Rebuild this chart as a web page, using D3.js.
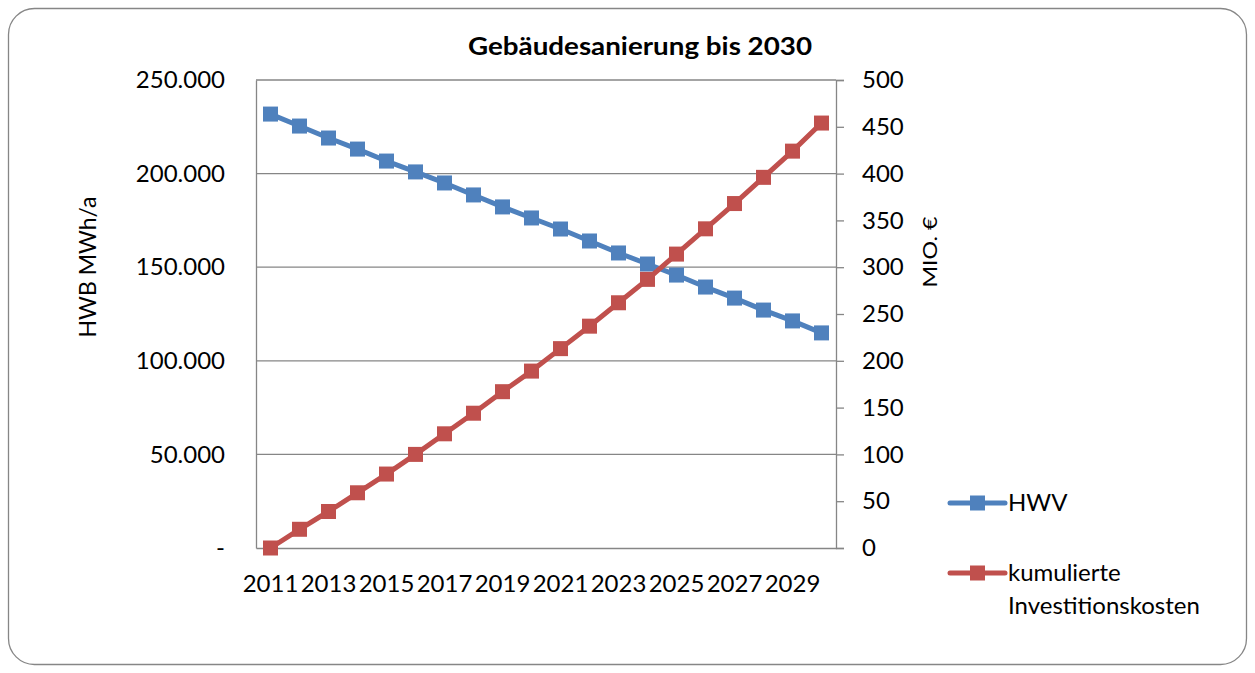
<!DOCTYPE html>
<html>
<head>
<meta charset="utf-8">
<script src="https://cdn.jsdelivr.net/npm/d3@7"></script>
<style>
  body { margin: 0; background: #fff; }
  svg, svg text { font-family: Lato, "Open Sans", sans-serif; }
</style>
</head>
<body>
<svg id="chart" width="1255" height="673"></svg>
<script>
const years = d3.range(2011, 2031).map(String);
const hwv = [231800, 225400, 219000, 213100, 206700, 200900, 195000, 188600, 182200, 176300,
             170400, 164000, 157600, 151700, 145800, 139400, 133500, 127100, 121300, 114900];
const kosten = [0, 20, 39, 59, 79, 100, 122, 144, 167, 189,
                213, 237, 262, 287, 314, 341, 368, 396, 424, 454];
const leftTicks = [0, 50000, 100000, 150000, 200000, 250000];
const rightTicks = [0, 50, 100, 150, 200, 250, 300, 350, 400, 450, 500];

const svg = d3.select("#chart");
const plot = { left: 256, right: 836, top: 80, bottom: 548 };
const blue = "#4F81BD", red = "#C0504D";
const axisColor = "#868686";
const fs = 24;

// outer frame
svg.append("rect")
    .attr("x", 8.5).attr("y", 8.5)
    .attr("width", 1238).attr("height", 656)
    .attr("rx", 26)
    .attr("fill", "#fff")
    .attr("stroke", axisColor)
    .attr("stroke-width", 1.3);

const x = d3.scaleBand().domain(years).range([plot.left, plot.right]);
const yL = d3.scaleLinear().domain([0, 250000]).range([plot.bottom, plot.top]);
const yR = d3.scaleLinear().domain([0, 500]).range([plot.bottom, plot.top]);

// gridlines
svg.append("g")
    .selectAll("line")
    .data(leftTicks.slice(1))
    .join("line")
    .attr("x1", plot.left).attr("x2", plot.right)
    .attr("y1", d => yL(d)).attr("y2", d => yL(d))
    .attr("stroke", axisColor).attr("stroke-width", 1.3);

const fmt = d => d === 0 ? "-" : d3.format(",")(d).replace(/,/g, ".");

function styleAxis(g) {
    g.attr("font-family", null).attr("font-size", null);
    g.select(".domain").attr("stroke", axisColor).attr("stroke-width", 1.3);
    g.selectAll(".tick line").attr("stroke", axisColor).attr("stroke-width", 1.3);
    g.selectAll("text").attr("font-size", fs).attr("fill", "#000");
}

// left axis
svg.append("g")
    .attr("transform", `translate(${plot.left},0)`)
    .call(d3.axisLeft(yL).tickValues(leftTicks).tickSize(0).tickPadding(31).tickFormat(fmt))
    .call(styleAxis);

// right axis
svg.append("g")
    .attr("transform", `translate(${plot.right},0)`)
    .call(d3.axisRight(yR).tickValues(rightTicks).tickSize(8).tickPadding(18))
    .call(styleAxis);

// bottom axis
svg.append("g")
    .attr("transform", `translate(0,${plot.bottom})`)
    .call(d3.axisBottom(x).tickValues(years.filter((d, i) => i % 2 === 0)).tickSize(0))
    .call(styleAxis)
    .selectAll("text").attr("dy", null).attr("y", 44);

// axis titles
svg.append("text")
    .attr("transform", "translate(96,267) rotate(-90)")
    .attr("text-anchor", "middle")
    .attr("font-size", 23)
    .text("HWB MWh/a");
svg.append("text")
    .attr("transform", "translate(937,252) rotate(-90)")
    .attr("text-anchor", "middle")
    .attr("font-size", 20)
    .attr("textLength", 71)
    .attr("lengthAdjust", "spacingAndGlyphs")
    .text("MIO. €");

svg.append("text")
    .attr("x", 640).attr("y", 55)
    .attr("text-anchor", "middle")
    .attr("font-size", 24)
    .attr("font-weight", "bold")
    .attr("textLength", 344)
    .attr("lengthAdjust", "spacingAndGlyphs")
    .text("Gebäudesanierung bis 2030");

// series
const series = [
    { name: "HWV", values: hwv, y: yL, color: blue },
    { name: "kumulierte Investitionskosten", values: kosten, y: yR, color: red }
];
const cx = d => x(d) + x.bandwidth() / 2;
const m = 15;

series.forEach(s => {
    const line = d3.line().x((d, i) => cx(years[i])).y(d => s.y(d));
    svg.append("path")
        .datum(s.values)
        .attr("fill", "none")
        .attr("stroke", s.color)
        .attr("stroke-width", 5)
        .attr("stroke-linejoin", "round")
        .attr("d", line);
    svg.append("g")
        .selectAll("rect")
        .data(s.values)
        .join("rect")
        .attr("x", (d, i) => cx(years[i]) - m / 2)
        .attr("y", d => s.y(d) - m / 2)
        .attr("width", m).attr("height", m)
        .attr("fill", s.color);
});

// legend
const legendY = [503, 573];
series.forEach((s, i) => {
    const g = svg.append("g").attr("transform", `translate(950,${legendY[i]})`);
    g.append("line")
        .attr("x1", 0).attr("x2", 55)
        .attr("stroke", s.color).attr("stroke-width", 5).attr("stroke-linecap", "round");
    g.append("rect")
        .attr("x", 20).attr("y", -7.5).attr("width", 15).attr("height", 15)
        .attr("fill", s.color);
    const t = g.append("text").attr("x", 58).attr("y", 8).attr("font-size", fs);
    if (i === 0) t.text(s.name);
    else {
        t.append("tspan").attr("x", 58).text("kumulierte");
        t.append("tspan").attr("x", 58).attr("dy", 33).text("Investitionskosten");
    }
});
</script>
</body>
</html>
